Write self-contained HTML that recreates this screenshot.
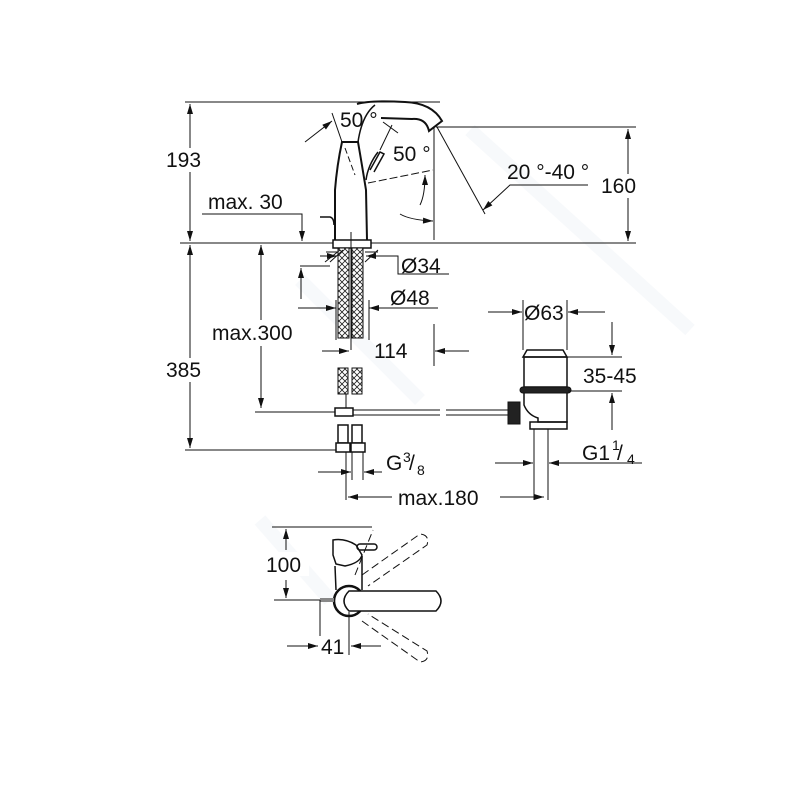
<!DOCTYPE html>
<html><head><meta charset="utf-8"><style>
html,body{margin:0;padding:0;background:#fff}
svg{display:block}
text{font-family:"Liberation Sans",Arial,sans-serif;fill:#111}
</style></head><body>
<svg width="800" height="800" viewBox="0 0 800 800" xmlns="http://www.w3.org/2000/svg">
<defs>
<marker id="a" viewBox="0 0 10 6" refX="10" refY="3" markerWidth="12" markerHeight="6" orient="auto-start-reverse" markerUnits="userSpaceOnUse"><path d="M0,0L10,3L0,6z" fill="#111"/></marker>
<pattern id="h" width="6" height="6" patternUnits="userSpaceOnUse"><rect width="6" height="6" fill="#fff"/><path d="M0,6L6,0M0,0L6,6" stroke="#222" stroke-width="0.8"/></pattern>
</defs>
<g stroke="#f7f9fb" stroke-width="14" fill="none"><path d="M470,130L690,330"/><path d="M300,280L420,400"/><path d="M260,520L330,600"/></g>
<g stroke="#111" stroke-width="1" fill="none">
<line x1="185" y1="102" x2="440" y2="102"/>
<line x1="180" y1="243" x2="636" y2="243"/>
<line x1="436" y1="127" x2="636" y2="127"/>
<line x1="185" y1="450" x2="350" y2="450"/>
<line x1="190" y1="104" x2="190" y2="241" marker-start="url(#a)" marker-end="url(#a)"/>
<line x1="190" y1="245" x2="190" y2="448" marker-start="url(#a)" marker-end="url(#a)"/>
<line x1="628" y1="129" x2="628" y2="241" marker-start="url(#a)" marker-end="url(#a)"/>
<polyline points="202,214 302,214 302,241" marker-end="url(#a)"/>
<line x1="261" y1="245" x2="261" y2="408" marker-start="url(#a)" marker-end="url(#a)"/>
<line x1="255" y1="412" x2="345" y2="412"/>

<path d="M335,240 L335,190 Q337,165 342,142 L358,142 Q362,165 366,190 L367,240" stroke-width="2"/>
<path d="M358,142 Q362,115 375,105" stroke-width="1.5"/>
<path d="M357,104 Q370,100 405,102 Q432,103 442,121 L429,131 Q426,118 412,119 L381,118" stroke-width="2"/>
<path d="M366,180 Q368,165 378,152" stroke-width="1.5"/>
<path d="M370,170 L380,152 L384,154 L374,172" stroke-width="1.5"/>
<line x1="380" y1="150" x2="392" y2="125"/>
<line x1="383" y1="122" x2="398" y2="133"/>
<path d="M345,148 L355,175" stroke-dasharray="6,3"/>
<path d="M368,183 L433,170" stroke-dasharray="8,3"/>
<line x1="305" y1="142" x2="332" y2="121" marker-end="url(#a)"/>
<line x1="332" y1="113" x2="342" y2="142"/>
<path d="M400,214 Q410,220 433,221" marker-end="url(#a)"/>
<path d="M420,205 Q425,195 425,175" marker-end="url(#a)"/>
<line x1="434" y1="127" x2="434" y2="240"/>
<line x1="437" y1="127" x2="485" y2="214"/>
<polyline points="588,185 510,185 483,210" marker-end="url(#a)"/>
<path d="M320,217 L330,217 Q334,218 334,225" stroke-width="1.5"/>
<rect x="333" y="240" width="38" height="8" stroke-width="1.5" fill="#fff"/>
<line x1="351" y1="232" x2="351" y2="350"/>
<rect x="338" y="248" width="11" height="90" fill="url(#h)"/>
<rect x="352" y="248" width="11" height="90" fill="url(#h)"/>
<rect x="338" y="368" width="10" height="26" fill="url(#h)"/>
<rect x="352" y="368" width="10" height="26" fill="url(#h)"/>
<line x1="326" y1="252" x2="338" y2="252"/><line x1="365" y1="252" x2="378" y2="252"/>
<path d="M325,262 L340,250 M365,262 L378,250 M330,262 L343,250"/>
<line x1="320" y1="256" x2="337" y2="256" marker-end="url(#a)"/>
<line x1="383" y1="256" x2="366" y2="256" marker-end="url(#a)"/>
<polyline points="383,256 398,256 398,274 449,274"/>
<line x1="300" y1="266" x2="330" y2="266"/>
<line x1="301" y1="299" x2="301" y2="268" marker-end="url(#a)"/>
<line x1="298" y1="308" x2="336" y2="308" marker-end="url(#a)"/>
<line x1="438" y1="308" x2="369" y2="308" marker-end="url(#a)"/>
<line x1="336" y1="300" x2="336" y2="340"/>
<line x1="369" y1="300" x2="369" y2="340"/>
<line x1="322" y1="351" x2="349" y2="351" marker-end="url(#a)"/>
<line x1="469" y1="351" x2="435" y2="351" marker-end="url(#a)"/>
<line x1="434" y1="324" x2="434" y2="366"/>
<line x1="346" y1="394" x2="346" y2="412"/>
<rect x="335" y="408" width="18" height="8" fill="#fff" stroke-width="1.5"/>
<line x1="353" y1="410" x2="440" y2="410"/><line x1="353" y1="415" x2="440" y2="415"/>
<line x1="446" y1="410" x2="508" y2="410"/><line x1="446" y1="415" x2="508" y2="415"/>
<rect x="508" y="402" width="12" height="22" fill="#222"/>
<rect x="338" y="425" width="10" height="18" stroke-width="1.5"/>
<rect x="352" y="425" width="10" height="18" stroke-width="1.5"/>
<rect x="336" y="443" width="14" height="9" fill="#fff" stroke-width="1.5"/>
<rect x="351" y="443" width="14" height="9" fill="#fff" stroke-width="1.5"/>
<line x1="346" y1="452" x2="346" y2="500"/><line x1="352" y1="452" x2="352" y2="480"/><line x1="363" y1="452" x2="363" y2="480"/>
<line x1="318" y1="472" x2="351" y2="472" marker-end="url(#a)"/>
<line x1="382" y1="472" x2="364" y2="472" marker-end="url(#a)"/>
<line x1="348" y1="497" x2="392" y2="497" marker-start="url(#a)"/>
<line x1="500" y1="497" x2="544" y2="497" marker-end="url(#a)"/>
<path d="M523,357 L527,350 L563,350 L567,357 Z" stroke-width="1.5"/>
<rect x="524" y="357" width="43" height="30" stroke-width="1.5"/>
<rect x="520" y="387" width="51" height="6" fill="#222" rx="3"/>
<path d="M524,393 L524,405 Q528,415 538,418 L538,422 L567,422 L567,393" stroke-width="1.5"/>
<rect x="530" y="422" width="37" height="7" stroke-width="1.5"/>
<line x1="534" y1="429" x2="534" y2="500"/><line x1="548" y1="429" x2="548" y2="500"/>
<line x1="523" y1="300" x2="523" y2="350"/><line x1="567" y1="300" x2="567" y2="350"/>
<line x1="488" y1="312" x2="522" y2="312" marker-end="url(#a)"/>
<line x1="605" y1="312" x2="568" y2="312" marker-end="url(#a)"/>
<line x1="568" y1="357" x2="622" y2="357"/>
<line x1="568" y1="391" x2="622" y2="391"/>
<line x1="612" y1="322" x2="612" y2="355" marker-end="url(#a)"/>
<line x1="612" y1="430" x2="612" y2="393" marker-end="url(#a)"/>
<line x1="495" y1="463" x2="533" y2="463" marker-end="url(#a)"/>
<line x1="642" y1="463" x2="549" y2="463" marker-end="url(#a)"/>

<line x1="272" y1="527" x2="372" y2="527"/>
<line x1="274" y1="600" x2="320" y2="600"/>
<line x1="286" y1="529" x2="286" y2="550" marker-start="url(#a)"/>
<line x1="286" y1="580" x2="286" y2="598" marker-end="url(#a)"/>
<path d="M333,555 L333,540 Q345,538 356,545 L362,555 Q360,563 345,566 L336,564 Z" stroke-width="1.5"/>
<rect x="357" y="544" width="20" height="6" rx="3" stroke-width="1.5"/>
<path d="M335,566 L336,590 M362,556 L362,590" stroke-width="1.5"/>
<path d="M362,575 L420,534 Q430,535 427,545 L368,586" stroke-dasharray="8,4"/>
<path d="M362,621 L420,662 Q430,661 427,651 L368,614" stroke-dasharray="8,4"/>
<path d="M355,575 L373,530" stroke-dasharray="8,4"/>
<circle cx="349" cy="601" r="15" stroke-width="2.5" fill="#fff"/>
<path d="M349,591 L436,591 Q446,601 436,611 L349,611 Q339,601 349,591 Z" stroke-width="1.5" fill="#fff"/>
<rect x="320" y="598" width="14" height="4" fill="#888" stroke="none"/>
<line x1="320" y1="600" x2="320" y2="655"/><line x1="349" y1="612" x2="349" y2="655"/>
<line x1="287" y1="646" x2="318" y2="646" marker-end="url(#a)"/>
<line x1="381" y1="646" x2="351" y2="646" marker-end="url(#a)"/>
</g>
<g fill="#fff">
<rect x="164" y="148" width="50" height="24"/>
<rect x="164" y="358" width="50" height="24"/>
<rect x="600" y="174" width="48" height="24"/>
<rect x="210" y="320" width="100" height="26"/>
<rect x="265" y="552" width="44" height="24"/>
<rect x="318" y="636" width="30" height="22"/>
</g>
<g font-size="21">
<text x="166" y="167">193</text>
<text x="166" y="377">385</text>
<text x="601" y="193">160</text>
<text x="208" y="209">max. 30</text>
<text x="340" y="127">50 °</text>
<text x="393" y="161">50 °</text>
<text x="507" y="179">20 °-40 °</text>
<text x="401" y="273">Ø34</text>
<text x="390" y="305">Ø48</text>
<text x="212" y="340">max.300</text>
<text x="374" y="358">114</text>
<text x="524" y="320">Ø63</text>
<text x="583" y="383">35-45</text>
<text x="386" y="470">G</text><text x="403" y="462" font-size="14">3</text><text x="409" y="470">/</text><text x="417" y="475" font-size="14">8</text>
<text x="582" y="460">G1</text><text x="612" y="450" font-size="14">1</text><text x="617" y="460">/</text><text x="627" y="464" font-size="14">4</text>
<text x="398" y="505">max.180</text>
<text x="266" y="572">100</text>
<text x="321" y="654">41</text>
</g>
</svg>
</body></html>
